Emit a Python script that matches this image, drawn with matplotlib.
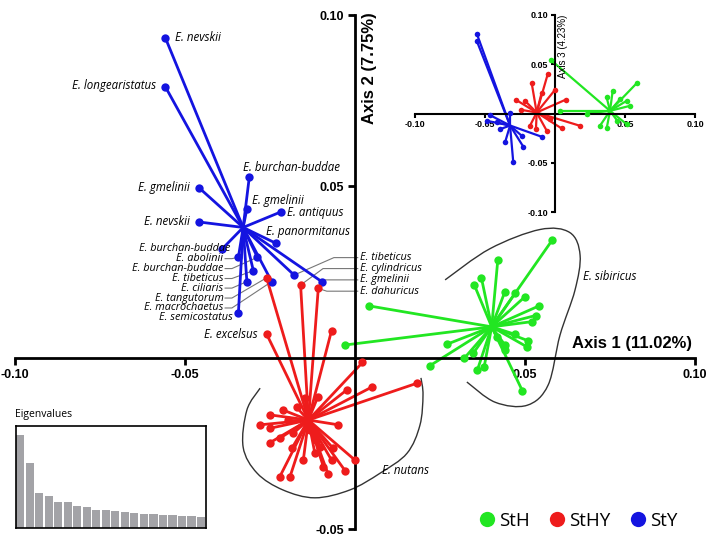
import numpy as np
import matplotlib
matplotlib.use("Agg")
import matplotlib.pyplot as plt
from matplotlib.path import Path
from matplotlib.patches import PathPatch
from matplotlib.lines import Line2D

GREEN = "#22e622"
RED = "#ee1c1c"
BLUE = "#1414e0"

# ---- PCoA axis 1 / axis 2 scores ----
sty_center = (-0.0329, 0.0380)
sty_x = [-0.0558, -0.0558, -0.0311, -0.0459, -0.0318, -0.0219, -0.0459, -0.0233, -0.0392,
         -0.0343, -0.0287, -0.0299, -0.0318, -0.0245, -0.0179, -0.0098, -0.0343]
sty_y = [0.0934, 0.0791, 0.0526, 0.0496, 0.0434, 0.0425, 0.0396, 0.0334, 0.0316,
         0.0293, 0.0293, 0.0254, 0.0222, 0.0222, 0.0241, 0.0222, 0.0129]

sthy_center = (-0.0137, -0.0182)
sthy_x = [-0.0260, -0.0160, -0.0108, -0.0260, -0.0069, 0.0022, -0.0024, 0.0051, 0.0181,
          -0.0110, -0.0049, 0.0000, -0.0029, -0.0079, -0.0093, -0.0069, -0.0118, -0.0152,
          -0.0191, -0.0221, -0.0186, -0.0250, -0.0221, -0.0279, -0.0250, -0.0250, -0.0211,
          -0.0172, -0.0147, -0.0182, -0.0103, -0.0064, -0.0132, -0.0196, -0.0115]
sthy_y = [0.0233, 0.0212, 0.0202, 0.0069, 0.0079, -0.0014, -0.0094, -0.0085, -0.0075,
          -0.0116, -0.0196, -0.0299, -0.0330, -0.0340, -0.0318, -0.0299, -0.0279, -0.0299,
          -0.0347, -0.0347, -0.0265, -0.0248, -0.0235, -0.0196, -0.0206, -0.0167, -0.0153,
          -0.0145, -0.0119, -0.0221, -0.0260, -0.0265, -0.0211, -0.0182, -0.0240]

sth_center = (0.0402, 0.0090)
sth_x = [0.0580, 0.0420, 0.0372, 0.0351, 0.0441, 0.0471, 0.0500, 0.0541, 0.0531, 0.0520,
         0.0042, -0.0029, 0.0471, 0.0510, 0.0505, 0.0441, 0.0441, 0.0270, 0.0221, 0.0321,
         0.0348, 0.0360, 0.0380, 0.0417, 0.0492]
sth_y = [0.0343, 0.0285, 0.0232, 0.0212, 0.0193, 0.0188, 0.0178, 0.0151, 0.0123, 0.0105,
         0.0151, 0.0037, 0.0068, 0.0049, 0.0032, 0.0037, 0.0022, 0.0039, -0.0023, -0.0002,
         0.0013, -0.0036, -0.0026, 0.0061, -0.0096]

# ---- axis 1 / axis 3 scores (inset) ----
sty3_center = (-0.0321, -0.0122)
sty3_x = [-0.0559, -0.0559, -0.0464, -0.0488, -0.0321, -0.0095, -0.0226, -0.0298, -0.0357,
          -0.0238, -0.0393, -0.0414]
sty3_y = [0.0812, 0.0738, -0.0017, -0.0074, 0.0010, -0.0236, -0.0338, -0.0497, -0.0294,
          -0.0226, -0.0160, -0.0091]
sthy3_center = (-0.0131, 0.0010)
sthy3_x = [-0.0052, -0.0166, 0.0000, -0.0279, -0.0245, 0.0179, 0.0048, -0.0059, -0.0179,
           -0.0095, -0.0214, -0.0036, -0.0136, 0.0079]
sthy3_y = [0.0399, 0.0305, 0.0240, 0.0139, 0.0038, -0.0125, -0.0152, -0.0175, -0.0125,
           0.0213, 0.0128, -0.0058, -0.0159, 0.0142]
sth3_center = (0.0393, 0.0027)
sth3_x = [-0.0031, 0.0584, 0.0412, 0.0036, 0.0226, 0.0512, 0.0536, 0.0321, 0.0369, 0.0512,
          0.0445, 0.0369, 0.0464]
sth3_y = [0.0545, 0.0308, 0.0230, 0.0027, 0.0000, 0.0129, 0.0078, -0.0125, -0.0152, -0.0109,
          -0.0074, 0.0163, 0.0145]

eigenvalues = [278, 195, 105, 95, 77, 77, 66, 63, 55, 54, 50, 47, 44, 43, 41, 40, 38, 37, 35, 32]

# outlines drawn around the two groups
sib_hull_x = [0.0265, 0.0397, 0.0544, 0.0632, 0.0662, 0.0647, 0.0603, 0.0568, 0.0506, 0.0412, 0.0329]
sib_hull_y = [0.0227, 0.0318, 0.0374, 0.0365, 0.0299, 0.0197, 0.0066, -0.0080, -0.0139, -0.0130, -0.0071]
nut_hull_x = [-0.0279, -0.0318, -0.0329, -0.0288, -0.0212, -0.0118, -0.0015, 0.0074, 0.0153, 0.0191, 0.0200, 0.0194]
nut_hull_y = [-0.0089, -0.0153, -0.0261, -0.0337, -0.0386, -0.0409, -0.0386, -0.0337, -0.0279, -0.0197, -0.0109, -0.0059]


def spider(ax, center, xs, ys, color, lw, ms):
    cx, cy = center
    for x, y in zip(xs, ys):
        ax.plot([cx, x], [cy, y], color=color, lw=lw, solid_capstyle="round", zorder=2)
    ax.plot(xs, ys, "o", color=color, ms=ms, mec="none", zorder=3)


def smooth_path(xs, ys):
    pts = np.column_stack([xs, ys])
    n = len(pts)
    verts = [pts[0]]
    codes = [Path.MOVETO]
    for i in range(n - 1):
        p0 = pts[max(i - 1, 0)]
        p1 = pts[i]
        p2 = pts[i + 1]
        p3 = pts[min(i + 2, n - 1)]
        verts += [p1 + (p2 - p0) / 6, p2 - (p3 - p1) / 6, p2]
        codes += [Path.CURVE4] * 3
    return Path(verts, codes)


fig = plt.figure(figsize=(7.09, 5.35), dpi=100)

# ---------------- main plot ----------------
ax = fig.add_axes([15 / 709, 6 / 535, 680 / 709, 514 / 535])
ax.set_xlim(-0.10, 0.10)
ax.set_ylim(-0.05, 0.10)
ax.patch.set_visible(False)
for s in ["top", "right"]:
    ax.spines[s].set_visible(False)
for s in ["left", "bottom"]:
    ax.spines[s].set_position(("data", 0))
    ax.spines[s].set_linewidth(2)
ax.set_xticks([-0.10, -0.05, 0.05, 0.10])
ax.set_xticklabels(["-0.10", "-0.05", "0.05", "0.10"])
ax.set_yticks([-0.05, 0.05, 0.10])
ax.set_yticklabels(["-0.05", "0.05", "0.10"])
ax.tick_params(direction="out", length=5, width=2, labelsize=9, pad=3)
for lab in ax.get_xticklabels() + ax.get_yticklabels():
    lab.set_fontweight("bold")
    lab.set_family("Liberation Sans")

spider(ax, sty_center, sty_x, sty_y, BLUE, 2.0, 6)
spider(ax, sthy_center, sthy_x, sthy_y, RED, 2.0, 6)
spider(ax, sth_center, sth_x, sth_y, GREEN, 2.0, 6)

for hx, hy in [(sib_hull_x, sib_hull_y), (nut_hull_x, nut_hull_y)]:
    ax.add_patch(PathPatch(smooth_path(hx, hy), fill=False, ec="#333333", lw=1.0, zorder=1))

lab_kw = dict(fontsize=8.3, style="italic", family="Open Sans", va="center", zorder=4)
stack_kw = dict(lab_kw, fontsize=7.8)
# labels next to points
ax.text(-0.0530, 0.0934, "E. nevskii", ha="left", **lab_kw)
ax.text(-0.0586, 0.0793, "E. longearistatus", ha="right", **lab_kw)
ax.text(-0.0329, 0.0556, "E. burchan-buddae", ha="left", **lab_kw)
ax.text(-0.0485, 0.0497, "E. gmelinii", ha="right", **lab_kw)
ax.text(-0.0304, 0.0460, "E. gmelinii", ha="left", **lab_kw)
ax.text(-0.0201, 0.0424, "E. antiquus", ha="left", **lab_kw)
ax.text(-0.0485, 0.0396, "E. nevskii", ha="right", **lab_kw)
ax.text(-0.0263, 0.0368, "E. panormitanus", ha="left", **lab_kw)
ax.text(-0.0368, 0.0318, "E. burchan-buddae", ha="right", **stack_kw)
ax.text(-0.0360, 0.0116, "E. semicostatus", ha="right", **stack_kw)
ax.text(-0.0285, 0.0069, "E. excelsus", ha="right", **lab_kw)
ax.text(0.0671, 0.0237, "E. sibiricus", ha="left", **lab_kw)
ax.text(0.0079, -0.0329, "E. nutans", ha="left", **lab_kw)

# labels with leader lines (left side)
left_labels = ["E. abolinii", "E. burchan-buddae", "E. tibeticus", "E. ciliaris",
               "E. tangutorum", "E. macrochaetus"]
left_label_y = [0.0289, 0.0260, 0.0231, 0.0203, 0.0174, 0.0145]
left_targets = [(sty_x[9], sty_y[9]), (sty_x[10], sty_y[10]), (sty_x[11], sty_y[11]),
                (sty_x[12], sty_y[12]), (sthy_x[0], sthy_y[0]), (sty_x[13], sty_y[13])]
for name, ly, (tx, ty) in zip(left_labels, left_label_y, left_targets):
    ax.text(-0.0387, ly, name, ha="right", **stack_kw)
    ax.plot([-0.0382, -0.0362, tx], [ly, ly, ty], color="#777777", lw=0.8, zorder=1.5)

# labels with leader lines (right side)
right_labels = ["E. tibeticus", "E. cylindricus", "E. gmelinii", "E. dahuricus"]
right_label_y = [0.0292, 0.0260, 0.0227, 0.0194]
right_targets = [(sty_x[14], sty_y[14]), (sthy_x[1], sthy_y[1]), (sty_x[15], sty_y[15]),
                 (sthy_x[2], sthy_y[2])]
right_bend_x = [-0.0062, -0.0094, -0.0088, -0.0083]
for name, ly, bx, (tx, ty) in zip(right_labels, right_label_y, right_bend_x, right_targets):
    ax.text(0.0016, ly, name, ha="left", **stack_kw)
    ax.plot([0.0008, bx, tx], [ly, ly, ty], color="#777777", lw=0.8, zorder=1.5)

ax.text(0.0044, 0.0845, "Axis 2 (7.75%)", rotation=90, ha="center", va="center",
        fontsize=12, fontweight="bold", family="Liberation Sans")
ax.text(0.0990, 0.0040, "Axis 1 (11.02%)", ha="right", va="center",
        fontsize=12, fontweight="bold", family="Liberation Sans")

handles = [Line2D([], [], marker="o", ls="", color=c, ms=11, mec="none") for c in (GREEN, RED, BLUE)]
fig.legend(handles, ["StH", "StHY", "StY"], loc="center", bbox_to_anchor=(578 / 709, 1 - 521 / 535),
           ncol=3, frameon=False, handlelength=0.9, handletextpad=0.2, columnspacing=1.0,
           prop={"family": "Open Sans", "size": 13.5})

# ---------------- inset: axis 1 vs axis 3 ----------------
ax3 = fig.add_axes([415 / 709, 1 - 212 / 535, 280 / 709, 197 / 535])
ax3.set_xlim(-0.10, 0.10)
ax3.set_ylim(-0.10, 0.10)
ax3.patch.set_visible(False)
for s in ["top", "right"]:
    ax3.spines[s].set_visible(False)
for s in ["left", "bottom"]:
    ax3.spines[s].set_position(("data", 0))
    ax3.spines[s].set_linewidth(1.5)
ax3.set_xticks([-0.10, -0.05, 0.05, 0.10])
ax3.set_xticklabels(["-0.10", "-0.05", "0.05", "0.10"])
ax3.set_yticks([-0.10, -0.05, 0.05, 0.10])
ax3.set_yticklabels(["-0.10", "-0.05", "0.05", "0.10"])
ax3.tick_params(direction="out", length=3, width=1.5, labelsize=6.5, pad=2)
for lab in ax3.get_xticklabels() + ax3.get_yticklabels():
    lab.set_fontweight("bold")
    lab.set_family("Liberation Sans")
spider(ax3, sty3_center, sty3_x, sty3_y, BLUE, 1.6, 4)
spider(ax3, sthy3_center, sthy3_x, sthy3_y, RED, 1.6, 4)
spider(ax3, sth3_center, sth3_x, sth3_y, GREEN, 1.6, 4)
ax3.text(0.0060, 0.068, "Axis 3 (4.23%)", rotation=90, ha="center", va="center",
         fontsize=7, family="Liberation Sans")

# ---------------- inset: eigenvalues ----------------
axe = fig.add_axes([16 / 709, 1 - 528 / 535, 190 / 709, 102 / 535])
axe.bar(range(len(eigenvalues)), eigenvalues, width=0.86, color="#a3a3a7", align="edge")
axe.set_xlim(0, len(eigenvalues) - 0.05)
axe.set_ylim(0, 305)
axe.set_xticks([])
axe.set_yticks([])
for s in axe.spines.values():
    s.set_linewidth(1.2)
fig.text(15 / 709, 1 - 414 / 535, "Eigenvalues", fontsize=7.5, family="Open Sans", ha="left", va="center")

fig.savefig("out.png", dpi=100)
